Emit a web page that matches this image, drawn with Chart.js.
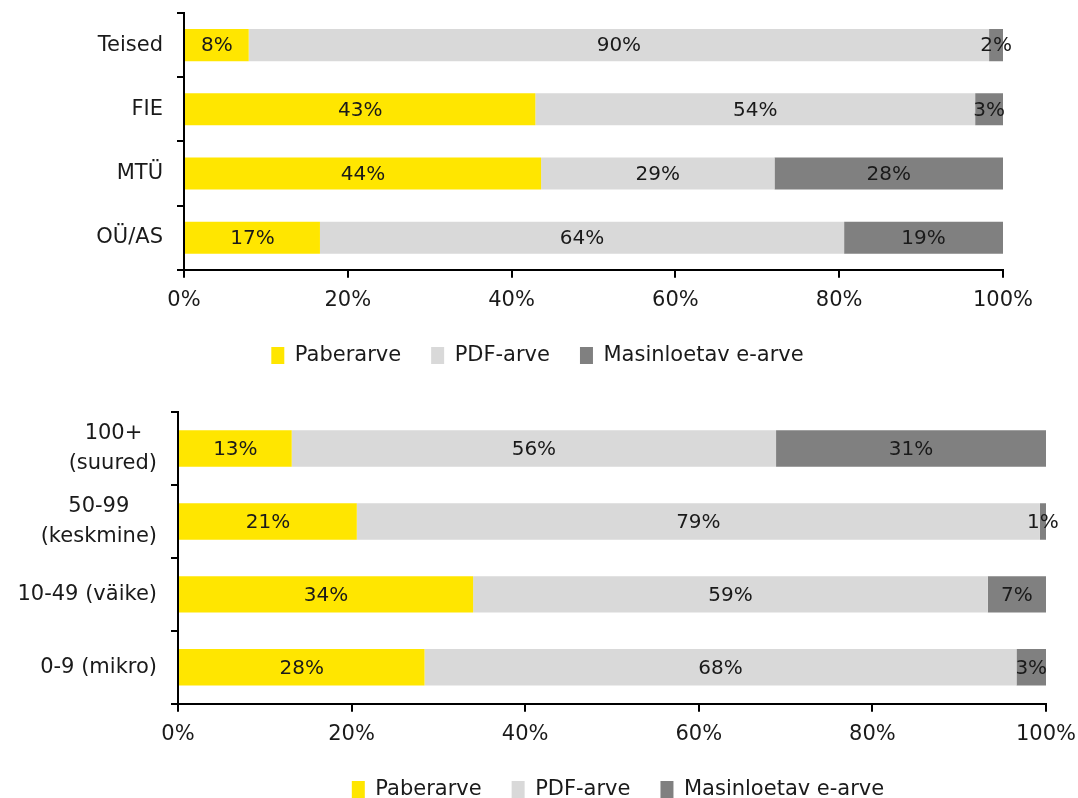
<!DOCTYPE html>
<html>
<head>
<meta charset="utf-8">
<script src="https://cdn.jsdelivr.net/npm/chart.js@4"></script>
<style>
  body { margin: 0; background: #fff; overflow: hidden; }
  .box { position: absolute; left: 0; width: 1078px; }
  #box1 { top: 0; height: 376px; }
  #box2 { top: 398px; height: 412px; }
</style>
</head>
<body>
<div class="box" id="box1"><canvas id="chart1"></canvas></div>
<div class="box" id="box2"><canvas id="chart2"></canvas></div>
<script>
const seriesNames = ['Paberarve', 'PDF-arve', 'Masinloetav e-arve'];
const seriesColors = ['#FFE600', '#D9D9D9', '#808080'];
const xTicks = [0, 20, 40, 60, 80, 100];

// ülemine graafik: ettevõtte vorm
const formLabels = ['Teised', 'FIE', 'MTÜ', 'OÜ/AS'];
const formPaber = [7.9, 42.9, 43.6, 16.6];
const formPdf = [90.4, 53.7, 28.5, 64.0];
const formMasin = [1.7, 3.4, 27.9, 19.4];

// alumine graafik: ettevõtte suurus (tühikud = kahe rea tsentreerimine)
const sizeLabels = [['100+\u2002\u2009', '(suured)'], ['50-99\u2002\u2002 ', '(keskmine)'], '10-49 (väike)', '0-9 (mikro)'];
const sizePaber = [13.1, 20.6, 34.0, 28.4];
const sizePdf = [55.8, 78.7, 59.3, 68.2];
const sizeMasin = [31.1, 0.7, 6.7, 3.4];

const FONT = 'DejaVu Sans';

const barLabels = {
    id: 'barLabels',
    afterDatasetsDraw(chart) {
        const ctx = chart.ctx;
        ctx.save();
        ctx.font = '20px "' + FONT + '"';
        ctx.fillStyle = '#1a1a1a';
        ctx.textAlign = 'center';
        ctx.textBaseline = 'middle';
        chart.data.datasets.forEach((ds, i) => {
            chart.getDatasetMeta(i).data.forEach((el, j) => {
                const v = ds.data[j];
                ctx.fillText(Math.round(v) + '%', (el.x + el.base) / 2, el.y + 1);
            });
        });
        ctx.restore();
    }
};

// nihutab legendi horisontaalselt
const legendShift = {
    id: 'legendShift',
    afterLayout(chart, args, opts) {
        chart.legend.left += opts.dx;
        chart.legend.right += opts.dx;
    }
};

function makeChart(id, labels, values, yWidth, pad, legendDx) {
    new Chart(document.getElementById(id), {
        type: 'bar',
        data: {
            labels: labels,
            datasets: values.map((d, i) => ({
                label: seriesNames[i],
                data: d,
                backgroundColor: seriesColors[i],
                barPercentage: 0.5,
                categoryPercentage: 1
            }))
        },
        options: {
            indexAxis: 'y',
            responsive: true,
            maintainAspectRatio: false,
            animation: false,
            layout: { padding: pad },
            scales: {
                x: {
                    stacked: true,
                    min: 0,
                    max: 100,
                    afterBuildTicks: s => { s.ticks = xTicks.map(v => ({ value: v })); },
                    afterFit: s => { s.height -= 8; s.paddingLeft = 0; s.paddingRight = 0; },
                    grid: { drawOnChartArea: false, color: '#000', tickLength: 8, lineWidth: 2 },
                    border: { color: '#000', width: 2 },
                    ticks: { callback: v => v + '%', color: '#1a1a1a', font: { family: FONT, size: 21 }, padding: 10, maxRotation: 0 }
                },
                y: {
                    stacked: true,
                    afterFit: s => { s.width = yWidth; s.paddingTop = 0; s.paddingBottom = 0; },
                    grid: { drawOnChartArea: false, color: '#000', tickLength: 7, lineWidth: 2 },
                    border: { color: '#000', width: 2 },
                    ticks: { color: '#1a1a1a', font: { family: FONT, size: 21, lineHeight: 1.4 }, padding: 14 }
                }
            },
            plugins: {
                legend: {
                    position: 'bottom',
                    labels: { color: '#1a1a1a', font: { family: FONT, size: 21 }, boxWidth: 13, boxHeight: 17, padding: 30 }
                },
                legendShift: { dx: legendDx },
                tooltip: { enabled: false }
            }
        },
        plugins: [barLabels, legendShift]
    });
}

makeChart('chart1', formLabels, [formPaber, formPdf, formMasin], 184, { top: 13, right: 75, left: 0, bottom: 0 }, 36);
makeChart('chart2', sizeLabels, [sizePaber, sizePdf, sizeMasin], 178, { top: 14, right: 32, left: 0, bottom: 0 }, 95);
</script>
</body>
</html>
